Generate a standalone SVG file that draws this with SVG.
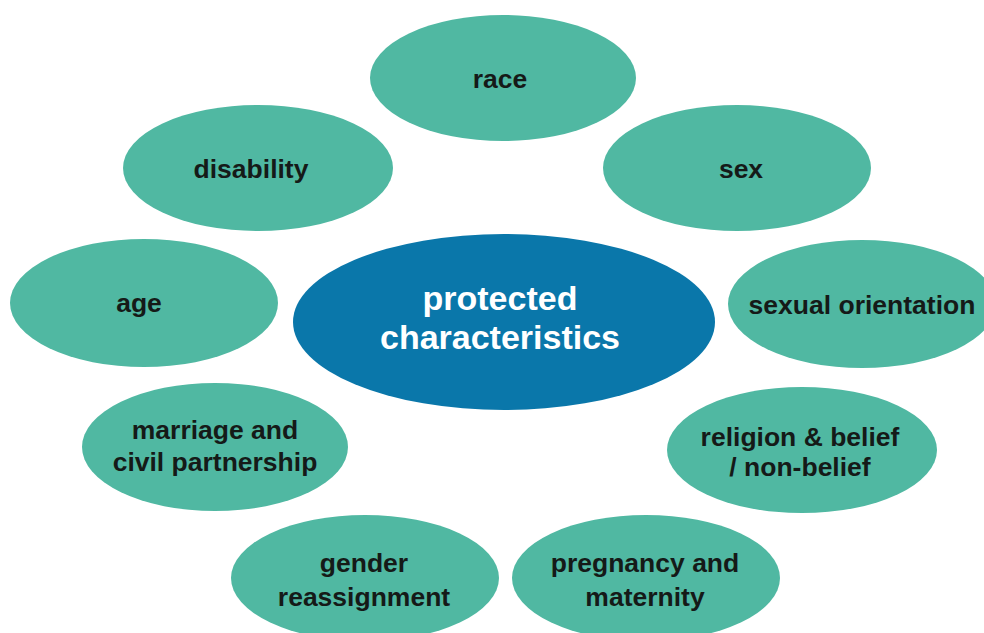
<svg xmlns="http://www.w3.org/2000/svg" width="984" height="633" viewBox="0 0 984 633">
<style>
.n{fill:#50b8a2}
.c{fill:#0a77aa}
.t{font-family:"Liberation Sans",Arial,sans-serif;font-weight:700;font-size:26.5px;fill:#151a18;text-anchor:middle}
.w{font-family:"Liberation Sans",Arial,sans-serif;font-weight:700;font-size:34px;fill:#ffffff;text-anchor:middle}
</style>
<rect width="984" height="633" fill="#ffffff"/>
<g id="connectors"></g>
<g id="race"><ellipse class="n" cx="503" cy="78" rx="133" ry="63"/><text class="t" x="500" y="88">race</text></g>
<g id="sex"><ellipse class="n" cx="737" cy="168" rx="134" ry="63"/><text class="t" x="741" y="178">sex</text></g>
<g id="disability"><ellipse class="n" cx="258" cy="168" rx="135" ry="63"/><text class="t" x="251" y="178">disability</text></g>
<g id="age"><ellipse class="n" cx="144" cy="303" rx="134" ry="64"/><text class="t" x="139" y="312">age</text></g>
<g id="sexual-orientation"><ellipse class="n" cx="862" cy="304" rx="134" ry="64"/><text class="t" x="862" y="314">sexual orientation</text></g>
<g id="protected-characteristics"><ellipse class="c" cx="504" cy="322" rx="211" ry="88"/><text class="w" x="500" y="310">protected</text><text class="w" x="500" y="349">characteristics</text></g>
<g id="marriage"><ellipse class="n" cx="215" cy="447" rx="133" ry="64"/><text class="t" x="215" y="439">marriage and</text><text class="t" x="215" y="471">civil partnership</text></g>
<g id="religion"><ellipse class="n" cx="802" cy="450" rx="135" ry="63"/><text class="t" x="800" y="446">religion &amp; belief</text><text class="t" x="800" y="476">/ non-belief</text></g>
<g id="gender"><ellipse class="n" cx="365" cy="578" rx="134" ry="63"/><text class="t" x="364" y="572">gender</text><text class="t" x="364" y="606">reassignment</text></g>
<g id="pregnancy"><ellipse class="n" cx="646" cy="578" rx="134" ry="63"/><text class="t" x="645" y="572">pregnancy and</text><text class="t" x="645" y="606">maternity</text></g>
</svg>
